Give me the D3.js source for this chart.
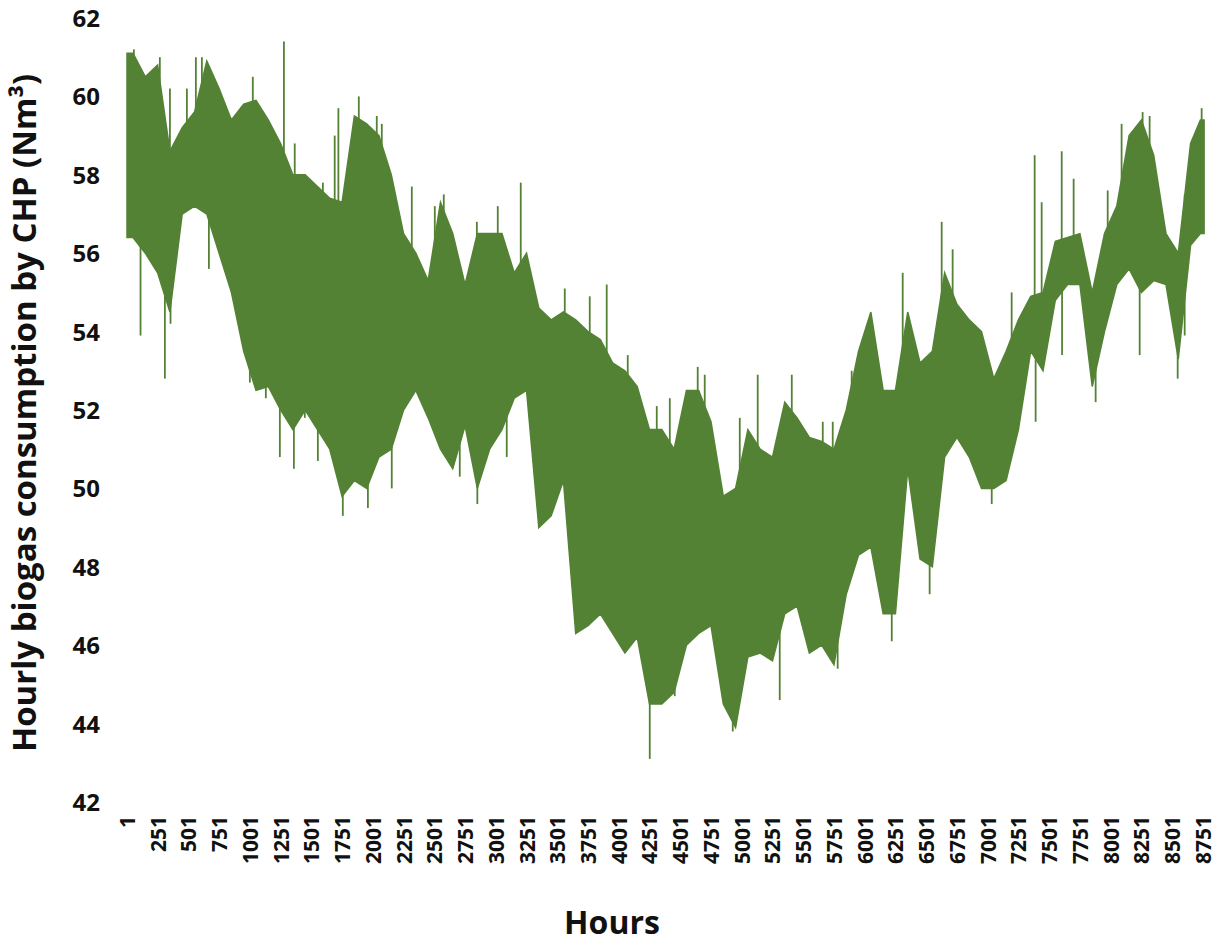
<!DOCTYPE html>
<html>
<head>
<meta charset="utf-8">
<script src="https://cdn.jsdelivr.net/npm/d3@7"></script>
<style>
  body { margin: 0; background: #fff; }
  text { font-family: "Open Sans", "Liberation Sans", sans-serif; font-weight: bold; fill: #111; }
</style>
</head>
<body>
<script>
const binHours = [50,150,250,350,450,550,650,750,850,950,1050,1150,1250,1350,1450,1550,1650,1750,1850,1950,
  2050,2150,2250,2350,2450,2550,2650,2750,2850,2950,3050,3150,3250,3350,3450,3550,3650,3750,3850,3950,
  4050,4150,4250,4350,4450,4550,4650,4750,4850,4950,5050,5150,5250,5350,5450,5550,5650,5750,5850,5950,
  6050,6150,6250,6350,6450,6550,6650,6750,6850,6950,7050,7150,7250,7350,7450,7550,7650,7750,7850,7950,
  8050,8150,8250,8350,8450,8550,8650,8730];
const binHigh = [61.1,60.5,60.8,58.6,59.2,59.6,60.9,60.2,59.4,59.8,59.9,59.4,58.8,58.0,58.0,57.7,57.4,57.3,59.5,59.3,
  59.0,58.0,56.5,56.0,55.3,57.3,56.5,55.2,56.5,56.5,56.5,55.5,56.0,54.6,54.3,54.5,54.3,54.0,53.8,53.2,
  53.0,52.6,51.5,51.5,51.0,52.5,52.5,51.7,49.8,50.0,51.5,51.0,50.8,52.2,51.8,51.3,51.2,51.0,52.0,53.5,
  54.5,52.5,52.5,54.5,53.2,53.5,55.5,54.7,54.3,54.0,52.8,53.5,54.3,54.9,55.0,56.3,56.4,56.5,55.0,56.5,
  57.2,59.0,59.4,58.5,56.5,56.0,58.8,59.4];
const binLow = [56.4,56.0,55.5,54.5,57.0,57.2,57.0,56.0,55.0,53.5,52.5,52.6,52.0,51.5,52.0,51.5,51.0,49.8,50.2,50.0,
  50.8,51.0,52.0,52.5,51.8,51.0,50.5,51.6,50.0,51.0,51.5,52.3,52.5,49.0,49.3,50.2,46.3,46.5,46.8,46.3,
  45.8,46.2,44.5,44.5,44.8,46.0,46.3,46.5,44.5,43.9,45.7,45.8,45.6,46.8,47.0,45.8,46.0,45.5,47.3,48.3,
  48.5,46.8,46.8,50.5,48.2,48.0,50.8,51.3,50.8,50.0,50.0,50.2,51.5,53.5,53.0,54.8,55.2,55.2,52.6,54.0,
  55.2,55.6,55.0,55.3,55.2,53.3,56.2,56.5];

// single hours that stick out of the band
const spikeHours = [57,111,268,309,350,355,488,561,610,667,902,1000,1024,1130,1244,1277,1358,1365,1447,1553,
  1594,1690,1720,1756,1886,1960,2032,2073,2154,2317,2504,2577,2707,2846,2850,3016,3089,3203,3345,3415,
  3561,3764,3902,4073,4252,4309,4415,4455,4642,4699,4927,4984,5130,5309,5407,5659,5740,5780,5894,6220,
  6309,6528,6626,6715,7033,7195,7382,7390,7439,7488,7602,7605,7699,7878,7976,8089,8236,8260,8317,8545,
  8602,8740];
const spikeValues = [61.2,53.9,61.0,52.8,60.2,54.2,60.2,61.0,61.0,55.6,54.6,52.7,60.5,52.3,50.8,61.4,50.5,58.8,51.8,50.7,
  57.8,59.0,59.7,49.3,60.0,49.5,59.5,59.3,50.0,57.7,57.2,57.5,50.3,56.8,49.6,57.2,50.8,57.8,49.3,49.6,
  55.1,54.9,55.2,53.4,43.1,52.1,52.3,44.7,53.1,52.9,43.8,51.8,52.9,44.6,52.9,51.7,51.7,45.4,53.0,46.1,
  55.5,47.3,56.8,56.1,49.6,55.0,58.5,51.7,57.3,54.0,58.6,53.4,57.9,52.2,57.6,59.3,53.4,59.6,59.5,52.8,
  53.9,59.7];

const yTicks = [42,44,46,48,50,52,54,56,58,60,62];
const xTicks = [1,251,501,751,1001,1251,1501,1751,2001,2251,2501,2751,3001,3251,3501,3751,4001,4251,4501,
  4751,5001,5251,5501,5751,6001,6251,6501,6751,7001,7251,7501,7751,8001,8251,8501,8751];

const W = 1220, H = 946;
const GREEN = "#548235";

const svg = d3.select("body").append("svg")
  .attr("width", W)
  .attr("height", H);

const x = d3.scaleLinear().domain([1, 8751]).range([127, 1203]);
const y = d3.scaleLinear().domain([42, 62]).range([802, 18]);

// band, stretched to the first and last hour
const band = binHours.map((h, i) => ({ h, hi: binHigh[i], lo: binLow[i] }));
band.unshift({ h: 1, hi: binHigh[0], lo: binLow[0] });
band.push({ h: 8760, hi: binHigh[binHigh.length - 1], lo: binLow[binLow.length - 1] });

svg.append("path")
  .datum(band)
  .attr("fill", GREEN)
  .attr("stroke", GREEN)
  .attr("stroke-width", 1.5)
  .attr("d", d3.area().x(d => x(d.h)).y0(d => y(d.lo)).y1(d => y(d.hi)));

// spikes start from the middle of the band at that hour
const mid = h => {
  const b = band[d3.bisector(d => d.h).center(band, h)];
  return (b.hi + b.lo) / 2;
};

svg.append("g")
  .selectAll("line")
  .data(spikeHours)
  .join("line")
  .attr("x1", d => x(d)).attr("x2", d => x(d))
  .attr("y1", d => y(mid(d)))
  .attr("y2", (d, i) => y(spikeValues[i]))
  .attr("stroke", GREEN)
  .attr("stroke-width", 1.8);

// axes without lines
const yAxis = svg.append("g")
  .attr("transform", "translate(100,0)")
  .call(d3.axisLeft(y).tickValues(yTicks).tickSize(0).tickPadding(0));
yAxis.select(".domain").remove();
yAxis.selectAll("text")
  .attr("font-size", 24)
  .attr("dy", "0.35em");

const xAxis = svg.append("g")
  .attr("transform", "translate(0,816)")
  .call(d3.axisBottom(x).tickValues(xTicks).tickFormat(d3.format("d")).tickSize(0).tickPadding(0));
xAxis.select(".domain").remove();
xAxis.selectAll("text")
  .attr("font-size", 21)
  .attr("transform", "rotate(-90)")
  .attr("text-anchor", "end")
  .attr("x", 0)
  .attr("y", 0)
  .attr("dx", 0)
  .attr("dy", "0.35em");

svg.append("text")
  .attr("x", 612)
  .attr("y", 934)
  .attr("text-anchor", "middle")
  .attr("font-size", 32)
  .text("Hours");

svg.append("text")
  .attr("transform", "translate(36,413) rotate(-90)")
  .attr("text-anchor", "middle")
  .attr("font-size", 33)
  .text("Hourly biogas  consumption by CHP (Nm³)");
</script>
</body>
</html>
